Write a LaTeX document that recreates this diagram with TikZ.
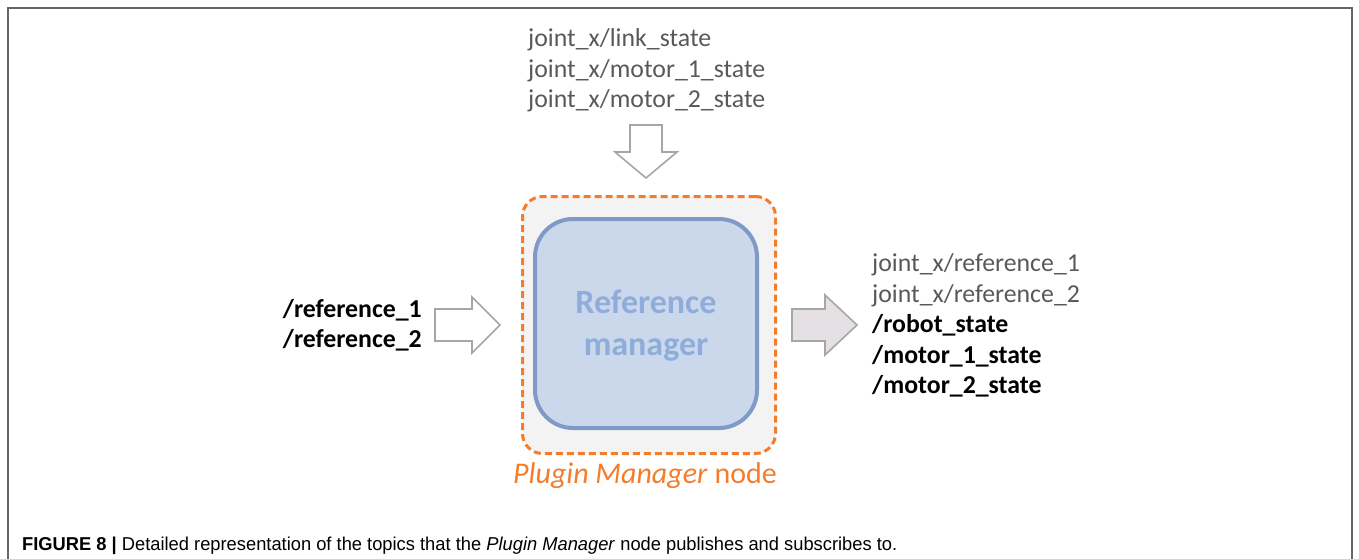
\documentclass[tikz,border=0pt]{standalone}
\usepackage{fontspec}
\setmainfont{Carlito}
\newfontfamily\capfont{Liberation Sans}
\usepackage{graphicx}
\definecolor{framegray}{HTML}{666666}
\definecolor{topicgray}{HTML}{595959}
\definecolor{arrowgray}{HTML}{A6A6A6}
\definecolor{arrowfill}{HTML}{E4E0E3}
\definecolor{pmorange}{HTML}{F47D2C}
\definecolor{pmfill}{HTML}{F3F3F3}
\definecolor{rmfill}{HTML}{CBD8EB}
\definecolor{rmline}{HTML}{7F9AC6}
\definecolor{rmtext}{HTML}{8FADDA}
\tikzset{
  topic/.style={inner sep=0pt, text=topicgray, font=\fontsize{25.8}{31}\selectfont},
  topicbold/.style={inner sep=0pt, text=black, font=\fontsize{25.8}{31}\selectfont\bfseries},
  blockarrow/.style={draw=arrowgray, line width=1.6pt, line join=miter},
  pmbox/.style={draw=pmorange, fill=pmfill, line width=3pt, dash pattern=on 7pt off 4pt,
    rounded corners=20pt, minimum width=253pt, minimum height=257pt, inner sep=0pt},
  rmbox/.style={draw=rmline, fill=rmfill, line width=4pt, rounded corners=38pt,
    minimum width=222pt, minimum height=209pt, inner sep=0pt},
  rmlabel/.style={inner sep=0pt, text=rmtext, font=\fontsize{34}{42}\selectfont\bfseries},
}
\begin{document}
\begin{tikzpicture}[x=1pt, y=-1pt]
\useasboundingbox (0,0) rectangle (1359,559);

% open frame around the figure
\draw[framegray, line width=1.5pt] (8,559) -- (8,8) -- (1352,8) -- (1352,559);

% subscribed topics (top)
\node[topic, anchor=base west] (top1) at (528,47) {joint\_x/link\_state};
\node[topic, anchor=base west] (top2) at (528,77.5) {joint\_x/motor\_1\_state};
\node[topic, anchor=base west] (top3) at (528,108) {joint\_x/motor\_2\_state};

% plugin manager node with the reference manager inside
\node[pmbox] (pm) at (649,325) {};
\node[rmbox] (rm) at (646,323.5) {};
\node[rmlabel, anchor=base] (rmt1) at (646,313) {Reference};
\node[rmlabel, anchor=base] (rmt2) at (646,355) {manager};
\node[anchor=base, inner sep=0pt, text=pmorange, font=\fontsize{30}{36}\selectfont]
  (pmlabel) at (645,483) {\textit{Plugin Manager} node};

% subscribed topics (left)
\node[topicbold, anchor=base east] (in1) at (422,317) {/reference\_1};
\node[topicbold, anchor=base east] (in2) at (422,347) {/reference\_2};

% published topics (right)
\node[topic, anchor=base west] (out1) at (872,271.5) {joint\_x/reference\_1};
\node[topic, anchor=base west] (out2) at (872,302) {joint\_x/reference\_2};
\node[topicbold, anchor=base west] (out3) at (872,332.5) {/robot\_state};
\node[topicbold, anchor=base west] (out4) at (872,363) {/motor\_1\_state};
\node[topicbold, anchor=base west] (out5) at (872,393.5) {/motor\_2\_state};

% block arrows
\draw[blockarrow, fill=white]
  (630,125) -- (662,125) -- (662,152) -- (677,152) -- (646,178) -- (615,152) -- (630,152) -- cycle;
\draw[blockarrow, fill=white]
  (435,309) -- (472,309) -- (472,297) -- (500,325) -- (472,353) -- (472,341) -- (435,341) -- cycle;
\draw[blockarrow, fill=arrowfill]
  (792,309) -- (825,309) -- (825,295) -- (857,325) -- (825,355) -- (825,341) -- (792,341) -- cycle;

% caption
\node[anchor=base west, inner sep=0pt] (caption) at (22,550)
  {\resizebox{875pt}{13.5pt}{\capfont\fontsize{16}{19}\selectfont\textbf{FIGURE 8 |} Detailed representation of the topics that the \textit{Plugin Manager} node publishes and subscribes to.}};
\end{tikzpicture}
\end{document}
